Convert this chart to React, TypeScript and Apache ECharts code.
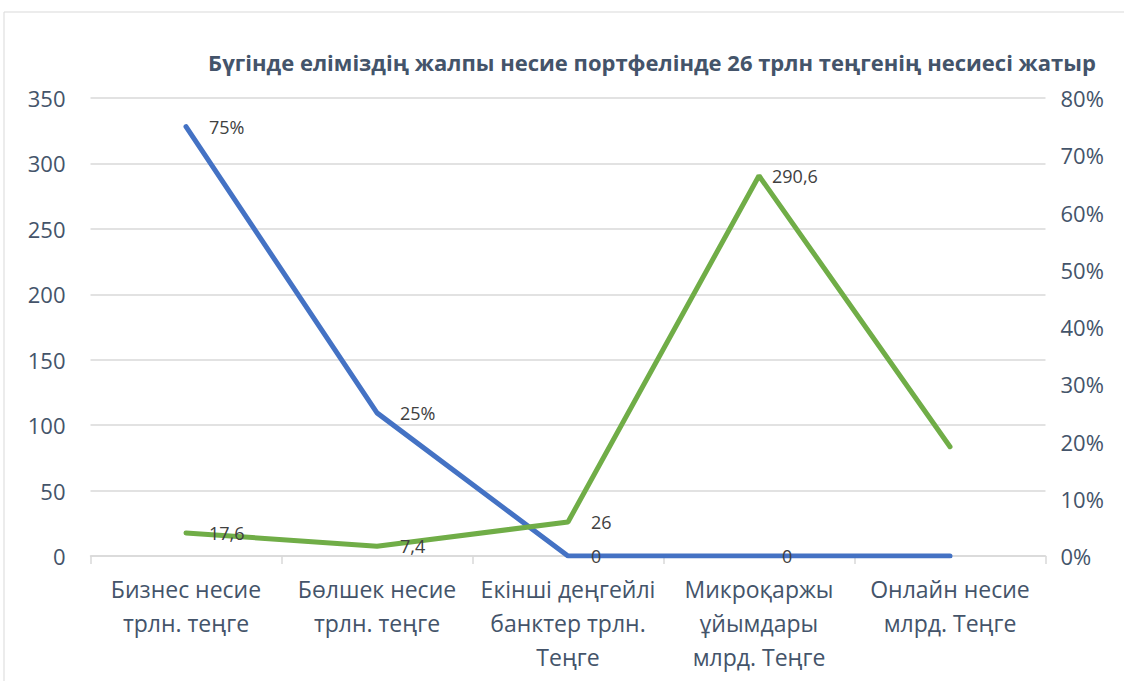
import React, { useEffect, useRef } from "react";
import * as echarts from "echarts";

const categories = [
  "Бизнес несие\nтрлн. теңге",
  "Бөлшек несие\nтрлн. теңге",
  "Екінші деңгейлі\nбанктер трлн.\nТеңге",
  "Микроқаржы\nұйымдары\nмлрд. Теңге",
  "Онлайн несие\nмлрд. Теңге",
];
const volumeValues = [17.6, 7.4, 26, 290.6, 83.5];
const volumeLabels = ["17,6", "7,4", "26", "290,6", ""];
const shareValues = [75, 25, 0, 0, 0];
const shareLabels = ["75%", "25%", "0", "0", ""];
const leftTicks = { min: 0, max: 350, interval: 50 };
const rightTicks = { min: 0, max: 80, interval: 10 };
const title = "Бүгінде еліміздің жалпы несие портфелінде 26 трлн теңгенің несиесі жатыр";

const FONT = "'Open Sans', sans-serif";
const TXT = "#44546a";

export default function App() {
  const ref = useRef<HTMLDivElement>(null);
  useEffect(() => {
    if (!ref.current) return;
    const chart = echarts.init(ref.current, undefined, { renderer: "svg" });
    const labelBase = {
      show: true,
      position: "right",
      distance: 22,
      color: "#404040",
      fontSize: 18,
      fontFamily: FONT,
    };
    chart.setOption({
      animation: false,
      backgroundColor: "#ffffff",
      textStyle: { fontFamily: FONT },
      graphic: [
        {
          type: "rect",
          shape: { x: 4, y: 12, width: 1130, height: 680 },
          style: { fill: "none", stroke: "#d9d9d9", lineWidth: 1 },
          silent: true,
        },
        {
          type: "text",
          x: 652,
          y: 62,
          style: {
            text: title,
            fill: TXT,
            font: `bold 22px ${FONT}`,
            textAlign: "center",
            textVerticalAlign: "middle",
          },
        },
      ],
      grid: { left: 90.5, right: 78.5, top: 98, bottom: 125, containLabel: false },
      xAxis: {
        type: "category",
        data: categories,
        boundaryGap: true,
        axisLine: { lineStyle: { color: "#d9d9d9", width: 1.5 } },
        axisTick: { show: true, length: 8, lineStyle: { color: "#d9d9d9", width: 1.5 } },
        axisLabel: {
          color: TXT,
          fontSize: 23,
          lineHeight: 34,
          margin: 16,
          fontFamily: FONT,
          interval: 0,
        },
      },
      yAxis: [
        {
          type: "value",
          ...leftTicks,
          axisLine: { show: false },
          axisTick: { show: false },
          splitLine: { lineStyle: { color: "#d9d9d9", width: 1.5 } },
          axisLabel: { color: TXT, fontSize: 22, margin: 25, fontFamily: FONT },
        },
        {
          type: "value",
          ...rightTicks,
          position: "right",
          axisLine: { show: false },
          axisTick: { show: false },
          splitLine: { show: false },
          axisLabel: {
            color: TXT,
            fontSize: 22,
            margin: 15,
            fontFamily: FONT,
            formatter: "{value}%",
          },
        },
      ],
      series: [
        {
          type: "line",
          yAxisIndex: 1,
          data: shareValues,
          showSymbol: true,
          symbol: "circle",
          symbolSize: 2,
          itemStyle: { color: "#4472c4" },
          lineStyle: { color: "#4472c4", width: 5, cap: "round" },
          label: {
            ...labelBase,
            formatter: (p: any) => shareLabels[p.dataIndex],
          },
          z: 2,
        },
        {
          type: "line",
          yAxisIndex: 0,
          data: volumeValues,
          showSymbol: true,
          symbol: "circle",
          symbolSize: 2,
          itemStyle: { color: "#70ad47" },
          lineStyle: { color: "#70ad47", width: 5, cap: "round" },
          label: {
            ...labelBase,
            formatter: (p: any) => volumeLabels[p.dataIndex],
          },
          labelLayout: (params: any) =>
            params.dataIndex === 3 ? { dx: -10 } : {},
          z: 3,
        },
      ],
    });
    return () => chart.dispose();
  }, []);
  return (
    <div
      ref={ref}
      style={{ position: "fixed", left: 0, top: 0, width: 1124, height: 681 }}
    />
  );
}
